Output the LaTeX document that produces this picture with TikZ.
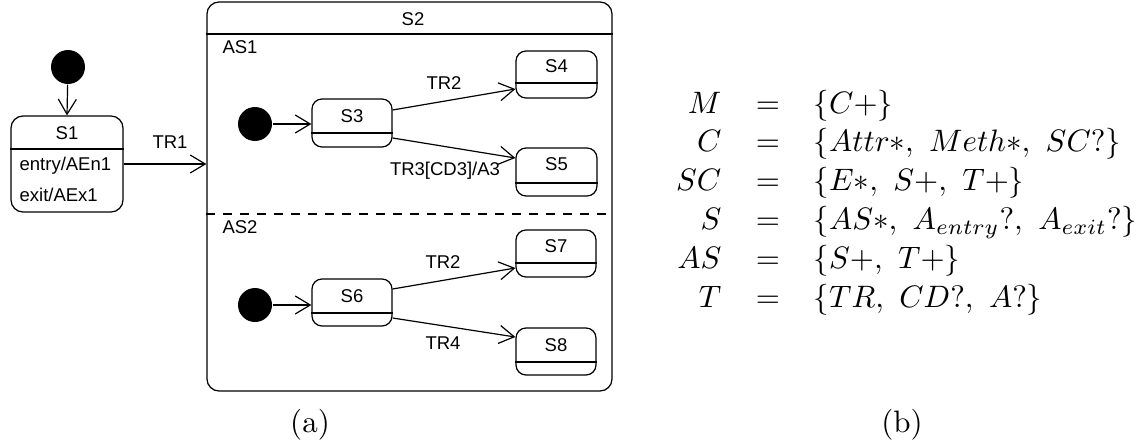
\documentclass[tikz,border=0pt]{standalone}
\usepackage{fontspec}
\newfontfamily\lsans{Liberation Sans}
\usetikzlibrary{arrows.meta}
\newcommand{\bigmath}[1]{\scalebox{3.1}{#1}}

\begin{document}
\begin{tikzpicture}[x=1pt,y=-1pt,
  line width=1.25pt,
  lbl/.style={font=\lsans\fontsize{18.5}{21}\selectfont, inner sep=0pt},
  statebox/.style={draw, rounded corners=10pt, line width=1.25pt, inner sep=0pt},
  initdot/.style={circle, fill=black, minimum size=34pt, inner sep=0pt},
  trans/.style={-{Straight Barb[length=15pt,width=18pt,line width=1.2pt]}, line width=1.2pt},
  eq/.style={inner sep=0pt},
  divider/.style={line width=1.25pt},
]
\useasboundingbox (0,0) rectangle (1138,444);

% ---------- outer state S1 ----------
\node[initdot] (i1) at (68,67) {};
\node[statebox, rounded corners=12pt, minimum width=112pt, minimum height=96pt] (s1) at (67,164) {};
\draw[divider] (s1.west |- 0,149) -- (s1.east |- 0,149);
\node[lbl] (s1t) at (67,133) {S1};
\node[lbl, anchor=west] (s1en) at (19,166) {entry/AEn1};
\node[lbl, anchor=west] (s1ex) at (19,195) {exit/AEx1};
\draw[trans] (i1) -- (s1.north);

% ---------- composite state S2 ----------
\node[statebox, rounded corners=12pt, minimum width=405pt, minimum height=389pt] (s2) at (409.5,196.5) {};
\draw[divider] (s2.west |- 0,34) -- (s2.east |- 0,34);
\draw[divider, dash pattern=on 9pt off 8pt] (s2.west |- 0,214) -- (s2.east |- 0,214);
\node[lbl] (s2t) at (413,19) {S2};
\node[lbl] (as1) at (240,47) {AS1};
\node[lbl] (as2) at (240,227) {AS2};

\draw[trans] (s1.east) -- (s2.west |- s1.east);
\node[lbl] (tr1) at (170,142) {TR1};

% ---------- region AS1 ----------
\node[initdot] (i2) at (255,124) {};
\node[statebox, minimum width=80pt, minimum height=48pt] (s3) at (352,123) {};
\draw[divider] (s3.west |- 0,133) -- (s3.east |- 0,133);
\node[lbl] (s3t) at (352,116) {S3};

\node[statebox, minimum width=81pt, minimum height=47pt] (s4) at (556.5,74.5) {};
\draw[divider] (s4.west |- 0,83) -- (s4.east |- 0,83);
\node[lbl] (s4t) at (556.5,66) {S4};

\node[statebox, minimum width=81pt, minimum height=48pt] (s5) at (556.5,172) {};
\draw[divider] (s5.west |- 0,183) -- (s5.east |- 0,183);
\node[lbl] (s5t) at (556.5,164) {S5};

\draw[trans] (i2) -- (s3.west |- i2);
\draw[trans] (s3.east |- 0,110) -- (s4.west |- 0,89);
\draw[trans] (s3.east |- 0,138) -- (s5.west |- 0,158);
\node[lbl] (tr2a) at (444,83) {TR2};
\node[lbl] (tr3) at (445,171) {TR3[CD3]/A3};

% ---------- region AS2 ----------
\node[initdot] (i3) at (255,305) {};
\node[statebox, minimum width=80pt, minimum height=47pt] (s6) at (352,302.5) {};
\draw[divider] (s6.west |- 0,313) -- (s6.east |- 0,313);
\node[lbl] (s6t) at (352,296) {S6};

\node[statebox, minimum width=80pt, minimum height=47pt] (s7) at (556,253.5) {};
\draw[divider] (s7.west |- 0,263) -- (s7.east |- 0,263);
\node[lbl] (s7t) at (556,246) {S7};

\node[statebox, minimum width=80pt, minimum height=47pt] (s8) at (556,351.5) {};
\draw[divider] (s8.west |- 0,362) -- (s8.east |- 0,362);
\node[lbl] (s8t) at (556,345) {S8};

\draw[trans] (i3) -- (s6.west |- i3);
\draw[trans] (s6.east |- 0,289) -- (s7.west |- 0,268);
\draw[trans] (s6.east |- 0,318) -- (s8.west |- 0,337);
\node[lbl] (tr2b) at (443,262) {TR2};
\node[lbl] (tr4) at (443,343) {TR4};

% ---------- grammar ----------
\foreach \lhs/\rhs/\b [count=\k] in {
  M/{\{C+\}}/113,
  C/{\{Attr{*},\ Meth{*},\ SC?\}}/151.8,
  SC/{\{E{*},\ S+,\ T+\}}/190.6,
  S/{\{AS{*},\ A_{entry}?,\ A_{exit}?\}}/229.4,
  AS/{\{S+,\ T+\}}/268.2,
  T/{\{TR,\ CD?,\ A?\}}/307}{
  \node[eq, anchor=base east] (l\k) at (722,\b) {\bigmath{$\lhs$}};
  \node[eq, anchor=base] (e\k) at (768,\b) {\bigmath{$=$}};
  \node[eq, anchor=base west] (r\k) at (813,\b) {\bigmath{$\rhs$}};
}

% ---------- captions ----------
\node[eq, anchor=base] (capa) at (310,432) {\bigmath{(a)}};
\node[eq, anchor=base] (capb) at (902,432) {\bigmath{(b)}};
\end{tikzpicture}
\end{document}
